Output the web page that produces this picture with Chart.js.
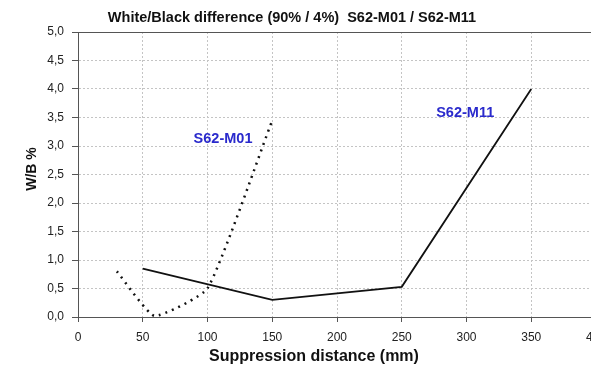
<!DOCTYPE html>
<html>
<head>
<meta charset="utf-8">
<script src="https://cdn.jsdelivr.net/npm/chart.js@4"></script>
<style>
  html, body { margin: 0; padding: 0; background: #fff; overflow: hidden; }
  #wrap { width: 600px; height: 371px; }
</style>
</head>
<body>
<div id="wrap"><canvas id="chart" width="600" height="371"></canvas></div>
<script>
(
    () => {
        // data
        const m01X = [30, 59, 100, 150];
        const m01Y = [0.8, 0.02, 0.5, 3.45];
        const m11X = [50, 150, 250, 350];
        const m11Y = [0.85, 0.3, 0.53, 4.0];
        const xTicks = [0, 50, 100, 150, 200, 250, 300, 350, 400];
        const yTicks = [0, 0.5, 1, 1.5, 2, 2.5, 3, 3.5, 4, 4.5, 5];

        const titleText = 'White/Black difference (90% / 4%)  S62-M01 / S62-M11';
        const xTitle = 'Suppression distance (mm)';
        const yTitle = 'W/B %';
        // series names placed next to their lines (data coordinates)
        const seriesLabels = [
            { text: 'S62-M01', x: 112, y: 3.12 },
            { text: 'S62-M11', x: 299, y: 3.58 }
        ];

        const toPoints = (xs, ys) => xs.map((x, i) => ({ x: x, y: ys[i] }));
        const fontFamily = '"Liberation Sans", Arial, sans-serif';

        // frame, titles and in-plot labels
        const decorations = {
            id: 'decorations',
            afterDraw(chart) {
                const { ctx, chartArea, scales } = chart;
                ctx.save();
                ctx.strokeStyle = '#555';
                ctx.lineWidth = 1;
                ctx.strokeRect(chartArea.left + 0.5, chartArea.top + 0.5,
                    chartArea.right - chartArea.left, chartArea.bottom - chartArea.top);

                ctx.fillStyle = '#111';
                ctx.textAlign = 'center';
                ctx.textBaseline = 'middle';
                ctx.font = 'bold 14.5px ' + fontFamily;
                ctx.fillText(titleText, 292, 18);

                ctx.font = 'bold 16px ' + fontFamily;
                ctx.fillText(xTitle, 314, 357);

                ctx.save();
                ctx.translate(32, 169);
                ctx.rotate(-Math.PI / 2);
                ctx.font = 'bold 14px ' + fontFamily;
                ctx.fillText(yTitle, 0, 0);
                ctx.restore();

                ctx.fillStyle = '#2a2acc';
                ctx.font = 'bold 14.5px ' + fontFamily;
                seriesLabels.forEach(l => {
                    ctx.fillText(l.text, scales.x.getPixelForValue(l.x), scales.y.getPixelForValue(l.y));
                });
                ctx.restore();
            }
        };

        const ctx = document.getElementById('chart').getContext('2d');
        new Chart(ctx, {
            type: 'line',
            data: {
                datasets: [
                    {
                        label: 'S62-M01',
                        data: toPoints(m01X, m01Y),
                        borderColor: '#111',
                        borderWidth: 2.5,
                        borderDash: [2, 5],
                        tension: 0.15,
                        pointRadius: 0,
                        fill: false
                    },
                    {
                        label: 'S62-M11',
                        data: toPoints(m11X, m11Y),
                        borderColor: '#111',
                        borderWidth: 1.8,
                        tension: 0,
                        pointRadius: 0,
                        fill: false
                    }
                ]
            },
            options: {
                responsive: false,
                animation: false,
                layout: { padding: { top: 32, right: 4, left: 0, bottom: 0 } },
                plugins: {
                    legend: { display: false },
                    title: { display: false },
                    tooltip: { enabled: false }
                },
                scales: {
                    x: {
                        type: 'linear',
                        min: 0,
                        max: 400,
                        afterBuildTicks: scale => { scale.ticks = xTicks.map(v => ({ value: v })); },
                        afterFit: scale => {
                            scale.height = 54;
                            scale.paddingLeft = 0;
                            scale.paddingRight = 0;
                        },
                        grid: {
                            color: '#c4c4c4',
                            lineWidth: 1,
                            tickColor: '#555',
                            tickLength: 5
                        },
                        border: { display: true, color: '#555', width: 1, dash: [2, 2] },
                        ticks: {
                            color: '#222',
                            padding: 8,
                            maxRotation: 0,
                            font: { family: fontFamily, size: 12 }
                        }
                    },
                    y: {
                        type: 'linear',
                        min: 0,
                        max: 5,
                        afterBuildTicks: scale => { scale.ticks = yTicks.map(v => ({ value: v })); },
                        afterFit: scale => {
                            scale.width = 78;
                            scale.paddingTop = 0;
                            scale.paddingBottom = 0;
                        },
                        grid: {
                            color: '#c4c4c4',
                            lineWidth: 1,
                            tickColor: '#555',
                            tickLength: 6
                        },
                        border: { display: true, color: '#555', width: 1, dash: [2, 2] },
                        ticks: {
                            color: '#222',
                            padding: 8,
                            font: { family: fontFamily, size: 12 },
                            callback: v => v.toFixed(1).replace('.', ',')
                        }
                    }
                }
            },
            plugins: [decorations]
        });
    }
)();
</script>
</body>
</html>
